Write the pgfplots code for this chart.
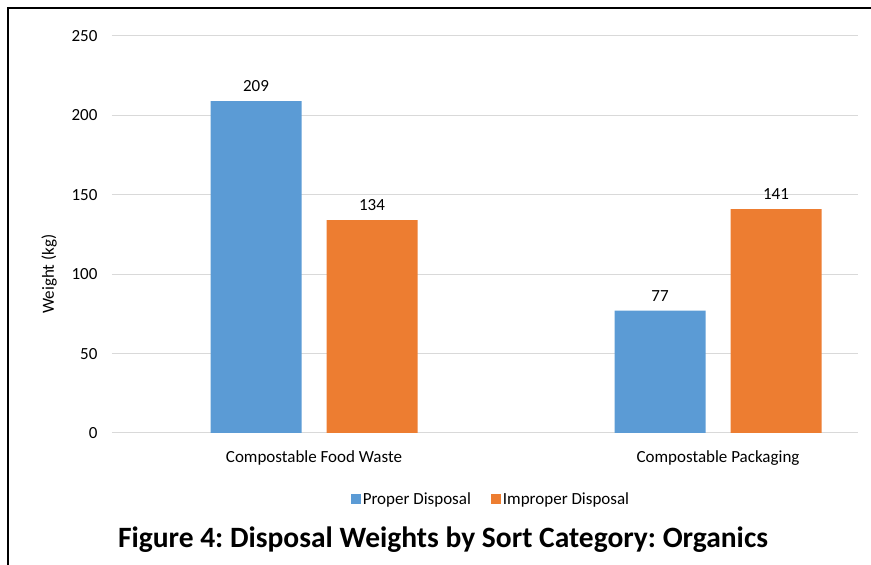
\documentclass[border=0pt]{standalone}
\usepackage{fontspec}
\setmainfont{Carlito}
\usepackage{pgfplots}
\pgfplotsset{compat=1.18}

\definecolor{proper}{HTML}{5B9BD5}
\definecolor{improper}{HTML}{ED7D31}
\definecolor{gridgray}{HTML}{D9D9D9}

\begin{document}
\frenchspacing
\begin{tikzpicture}[x=1pt,y=1pt]
% page and frame (pixel (px,py) -> (px-112, 433-py))
\useasboundingbox (-112,-132) rectangle (759,433);
\draw[line width=1.6pt] (-104,-132) -- (-104,425) -- (762,425);

\begin{axis}[
    at={(0,0)}, anchor=south west,
    scale only axis,
    width=746pt, height=397pt,
    ybar=25pt, bar width=91pt,
    xmin=-0.5, xmax=1.3465,
    ymin=0, ymax=250,
    ytick={0,50,...,250},
    xtick={0,1},
    xticklabels={Compostable Food Waste, Compostable Packaging},
    axis line style={draw=none},
    major tick length=0pt,
    ymajorgrids,
    grid style={gridgray, line width=1pt},
    tick label style={font=\fontsize{17}{20}\selectfont, text=black},
    /pgf/number format/assume math mode=true,
    yticklabel style={xshift=-11pt},
    xticklabel style={yshift=-14pt},
    ylabel={Weight (kg)},
    every axis y label/.style={at={(-63pt,0.4)}, rotate=90, anchor=center,
        font=\fontsize{17}{20}\selectfont},
    nodes near coords,
    every node near coord/.append style={font=\fontsize{17}{20}\selectfont, text=black, yshift=6pt},
    legend columns=2,
    legend style={at={(0.508,-0.166)}, anchor=center, draw=none,
        font=\fontsize{17}{20}\selectfont,
        /tikz/every even column/.append style={column sep=18pt}},
    legend image code/.code={\fill[#1] (0pt,-5pt) rectangle (10pt,5pt);},
]
\addplot[fill=proper, draw=none] coordinates {(0,209) (1,77)};
\addplot[fill=improper, draw=none] coordinates {(0,134) (1,141)};
\legend{Proper Disposal, Improper Disposal}
\end{axis}

\node[font=\fontsize{29.5}{34}\selectfont\bfseries] at (331,-107) {Figure 4: Disposal Weights by Sort Category: Organics};
\end{tikzpicture}
\end{document}
